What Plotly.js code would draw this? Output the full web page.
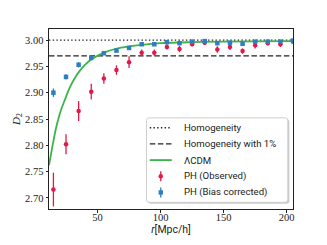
<!DOCTYPE html>
<html><head><meta charset="utf-8">
<script src="https://cdn.plot.ly/plotly-3.0.1.min.js"></script>
<style>html,body{margin:0;padding:0;background:#fff}#chart{width:327px;height:245px}</style>
</head><body><div id="chart"></div>
<script>
// Data
const rBins = [15,25,35,45,55,65,75,85,95,105,115,125,135,145,155,165,175,185,195,205];
const phObserved = [2.716,2.802,2.865,2.902,2.927,2.943,2.958,2.976,2.976,2.987,2.983,2.992,2.995,2.982,2.987,2.979,2.990,2.994,2.992,2.997];
const phObservedErr = [0.032,0.019,0.019,0.015,0.010,0.009,0.011,0.006,0.006,0.005,0.006,0.004,0.004,0.006,0.006,0.005,0.006,0.004,0.005,0.004];
const phBias = [2.900,2.930,2.953,2.966,2.975,2.980,2.985,2.992,2.992,2.996,2.994,2.997,2.998,2.994,2.995,2.993,2.997,2.997,2.997,2.999];
const phBiasErr = [0.008,0.005,0.005,0.004,0.003,0.003,0.003,0.002,0.002,0.002,0.002,0.002,0.002,0.003,0.002,0.003,0.002,0.002,0.002,0.002];
const lcdmR = [11.5,13,15,17,19,21,24,28,32,36,40,46,50,56,64,75,85,100,125,150,205];
const lcdmD2 = [2.762,2.782,2.808,2.832,2.851,2.867,2.886,2.910,2.928,2.942,2.953,2.965,2.970,2.977,2.983,2.988,2.991,2.994,2.996,2.997,2.998];
const homogeneity = 3.0;
const homogeneity1pct = 2.97;
const xRange = [11.5, 205];
const yRange = [2.679, 3.021];
const xTicks = [50,100,150,200];
const yTicks = [2.70,2.75,2.80,2.85,2.90,2.95,3.00];
const legendNames = ['Homogeneity','Homogeneity with 1%','ΛCDM','PH (Observed)','PH (Bias corrected)'];

const red = '#e0194a', blue = '#2e7ec1', green = '#3cb44b', ink = '#222';
const dotDash = '1.4px,2.3px', longDash = '5.5px,2.6px';
const traces = [
  {x: xRange, y: [homogeneity, homogeneity], mode:'lines', name:legendNames[0],
   line:{color:ink, width:1.3, dash:dotDash}},
  {x: xRange, y: [homogeneity1pct, homogeneity1pct], mode:'lines', name:legendNames[1],
   line:{color:ink, width:1.4, dash:longDash}},
  {x: lcdmR, y: lcdmD2, mode:'lines', name:legendNames[2], line:{color:green, width:1.8, shape:'spline'}},
  {x: rBins, y: phObserved, mode:'markers', name:legendNames[3],
   marker:{color:red, size:4.5, symbol:'circle'},
   error_y:{type:'data', array:phObservedErr, visible:true, color:red, thickness:1.3, width:0}},
  {x: rBins, y: phBias, mode:'markers', name:legendNames[4],
   marker:{color:blue, size:4.5, symbol:'square'},
   error_y:{type:'data', array:phBiasErr, visible:true, color:blue, thickness:1.3, width:0}}
];

// Plot area in pixels (for the hand-built legend)
const W = 327, H = 245, mL = 49, mR = 33.5, mT = 28.7, mB = 36;
const pw = W - mL - mR, ph = H - mT - mB;
const px = v => (v - mL) / pw;
const py = v => (H - mB - v) / ph;

const shapes = [];
const annotations = [];
function roundRect(x0, y0, x1, y1, r) {
  const X = v => px(v), Y = v => py(v);
  return `M ${X(x0+r)},${Y(y0)} L ${X(x1-r)},${Y(y0)} Q ${X(x1)},${Y(y0)} ${X(x1)},${Y(y0+r)} ` +
         `L ${X(x1)},${Y(y1-r)} Q ${X(x1)},${Y(y1)} ${X(x1-r)},${Y(y1)} L ${X(x0+r)},${Y(y1)} ` +
         `Q ${X(x0)},${Y(y1)} ${X(x0)},${Y(y1-r)} L ${X(x0)},${Y(y0+r)} Q ${X(x0)},${Y(y0)} ${X(x0+r)},${Y(y0)} Z`;
}
const lb = {x0:146.7, y0:117.7, x1:288.3, y1:202.3};
shapes.push({type:'path', xref:'paper', yref:'paper', path:roundRect(lb.x0+1.5, lb.y0+1.5, lb.x1+1.5, lb.y1+1.5, 2.5),
  fillcolor:'#c8c8c8', line:{width:0}, layer:'above'});
shapes.push({type:'path', xref:'paper', yref:'paper', path:roundRect(lb.x0, lb.y0, lb.x1, lb.y1, 2.5),
  fillcolor:'#fff', line:{color:'#cfcfcf', width:1}, layer:'above'});
const rowY = [127.6, 143.8, 160.0, 176.2, 192.4];
const sx0 = 150, sx1 = 172, sxm = 161, tx = 182.7;
shapes.push({type:'line', xref:'paper', yref:'paper', x0:px(sx0), x1:px(sx1), y0:py(rowY[0]), y1:py(rowY[0]),
  line:{color:ink, width:1.3, dash:dotDash}, layer:'above'});
shapes.push({type:'line', xref:'paper', yref:'paper', x0:px(sx0), x1:px(sx1), y0:py(rowY[1]), y1:py(rowY[1]),
  line:{color:ink, width:1.4, dash:longDash}, layer:'above'});
shapes.push({type:'line', xref:'paper', yref:'paper', x0:px(sx0), x1:px(sx1), y0:py(rowY[2]), y1:py(rowY[2]),
  line:{color:green, width:1.8}, layer:'above'});
[[rowY[3], red, 'circle'], [rowY[4], blue, 'rect']].forEach(([yy, c, kind]) => {
  shapes.push({type:'line', xref:'paper', yref:'paper', x0:px(sxm), x1:px(sxm), y0:py(yy-5), y1:py(yy+5),
    line:{color:c, width:1.3}, layer:'above'});
  shapes.push({type:kind, xref:'paper', yref:'paper', x0:px(sxm-2.2), x1:px(sxm+2.2), y0:py(yy-2.2), y1:py(yy+2.2),
    fillcolor:c, line:{width:0}, layer:'above'});
});
legendNames.forEach((n, i) => {
  annotations.push({xref:'paper', yref:'paper', x:px(tx), y:py(rowY[i]), xanchor:'left', yanchor:'middle',
    text:n, showarrow:false, font:{family:'Roboto, sans-serif', size:9.6, color:ink}});
});

const serif = 'Liberation Serif, DejaVu Serif, serif';
const layout = {
  width:W, height:H,
  margin:{l:mL, r:mR, t:mT, b:mB},
  paper_bgcolor:'#fff', plot_bgcolor:'#fff',
  showlegend:false,
  shapes, annotations,
  xaxis:{range:xRange, tickvals:xTicks, ticktext:xTicks.map(String),
    showgrid:false, zeroline:false, showline:true, mirror:true, linecolor:ink, linewidth:1,
    ticks:'outside', ticklen:2.5, tickcolor:ink, tickwidth:1, ticklabelstandoff:-4,
    tickfont:{family:serif, size:10.5, color:ink},
    title:{text:'<i>r</i>[Mpc/h]', font:{family:'Roboto, sans-serif', size:10.5, color:ink}, standoff:0}},
  yaxis:{range:yRange, tickvals:yTicks, ticktext:yTicks.map(v=>v.toFixed(2)),
    showgrid:false, zeroline:false, showline:true, mirror:true, linecolor:ink, linewidth:1,
    ticks:'outside', ticklen:2.5, tickcolor:ink, tickwidth:1,
    tickfont:{family:serif, size:10.5, color:ink},
    title:{text:'<i>D</i><sub>2</sub>', font:{family:serif, size:11, color:ink}, standoff:2}}
};
Plotly.newPlot('chart', traces, layout, {staticPlot:true, displayModeBar:false});
</script></body></html>
